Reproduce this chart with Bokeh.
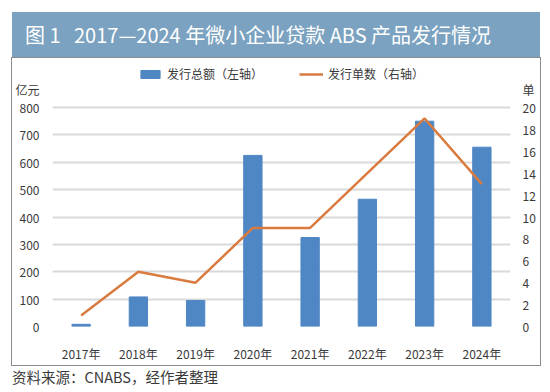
from bokeh.plotting import figure
from bokeh.layouts import column
from bokeh.models import (Range1d, LinearAxis, Legend, LegendItem, Div,
                          FixedTicker, ColumnDataSource)
from bokeh.embed import file_html
from bokeh.resources import INLINE

years = ["2017年", "2018年", "2019年", "2020年", "2021年", "2022年", "2023年", "2024年"]
amount = [8, 108, 95, 625, 325, 465, 750, 655]      # 亿元 (left axis)
count = [1, 5, 4, 9, 9, 14, 19, 13]                  # 单 (right axis)
left_ticks = [0, 100, 200, 300, 400, 500, 600, 700, 800]
right_ticks = [0, 2, 4, 6, 8, 10, 12, 14, 16, 18, 20]
left_unit = "亿元"
right_unit = "单"
title_text = "图 1&nbsp;&nbsp;&nbsp;2017—2024 年微小企业贷款 ABS 产品发行情况"
source_text = "资料来源：CNABS，经作者整理"

CJK = "Noto Sans CJK SC"
TXT = "#3a3a3a"
BLUE = "#4f87c4"
ORANGE = "#d97a3f"

# frame geometry: 264 px tall, value 800 sits 219 px above the baseline
LMAX = 800 * 264 / 219
RMAX = 20 * 264 / 219
L_UNIT_POS = 800 * 237 / 219
R_UNIT_POS = 20 * 237 / 219

src = ColumnDataSource(dict(x=years, amount=amount, count=count))

p = figure(width=528, height=307, x_range=years, y_range=Range1d(0, LMAX),
           output_backend="svg", toolbar_location=None,
           min_border_left=40, min_border_right=30, min_border_top=4,
           min_border_bottom=39, margin=(0, 0, 0, 12),
           styles={"outline": "1px solid #8c8c8c"})
p.outline_line_color = None
p.background_fill_color = "white"
p.border_fill_color = "white"

p.extra_y_ranges = {"right": Range1d(0, RMAX)}

bars = p.vbar(x="x", top="amount", width=0.32, source=src, color=BLUE)
line = p.line(x="x", y="count", source=src, y_range_name="right",
              line_color=ORANGE, line_width=2.5)

# left axis (unit shown as top label)
ya = p.yaxis[0]
ya.ticker = FixedTicker(ticks=left_ticks + [L_UNIT_POS])
ya.major_label_overrides = {L_UNIT_POS: left_unit}
ya.axis_line_color = None
ya.major_tick_line_color = None
ya.minor_tick_line_color = None
ya.major_label_text_font = CJK
ya.major_label_text_font_size = "12px"
ya.major_label_text_color = TXT
ya.major_label_standoff = 7

ra = LinearAxis(y_range_name="right",
                ticker=FixedTicker(ticks=right_ticks + [R_UNIT_POS]))
ra.major_label_overrides = {R_UNIT_POS: right_unit}
ra.axis_line_color = None
ra.major_tick_line_color = None
ra.minor_tick_line_color = None
ra.major_label_text_font = CJK
ra.major_label_text_font_size = "12px"
ra.major_label_text_color = TXT
ra.major_label_standoff = 6
p.add_layout(ra, "right")

xa = p.xaxis[0]
xa.axis_line_color = None
xa.major_tick_line_color = None
xa.major_label_text_font = CJK
xa.major_label_text_font_size = "12px"
xa.major_label_text_color = TXT
xa.major_label_standoff = 12

p.xgrid.grid_line_color = None
p.ygrid.ticker = FixedTicker(ticks=left_ticks)
p.ygrid.grid_line_color = "#d9d9d9"
p.ygrid.grid_line_width = 2

legend = Legend(items=[LegendItem(label="发行总额（左轴）", renderers=[bars]),
                       LegendItem(label="发行单数（右轴）", renderers=[line])],
                orientation="horizontal", location=(86, 244),
                label_text_font=CJK, label_text_font_size="12px",
                label_text_color=TXT, glyph_width=24, glyph_height=10,
                label_standoff=5, spacing=36, border_line_color=None,
                background_fill_alpha=0, padding=0, margin=0)
p.add_layout(legend, "center")

banner = Div(text=title_text, width=528, height=46, margin=(12, 0, 0, 12),
             styles={"background-color": "#7ba2c0", "color": "white",
                     "font-family": CJK, "font-size": "20px",
                     "line-height": "46px", "padding-left": "13px",
                     "box-sizing": "border-box", "white-space": "nowrap"})
source = Div(text=source_text, width=528, height=22, margin=(1, 0, 0, 12),
             styles={"color": TXT, "font-family": CJK, "font-size": "14.5px",
                     "line-height": "22px", "white-space": "nowrap"})

layout = column(banner, p, source, spacing=0)

open("out.html", "w").write(file_html(layout, INLINE))
